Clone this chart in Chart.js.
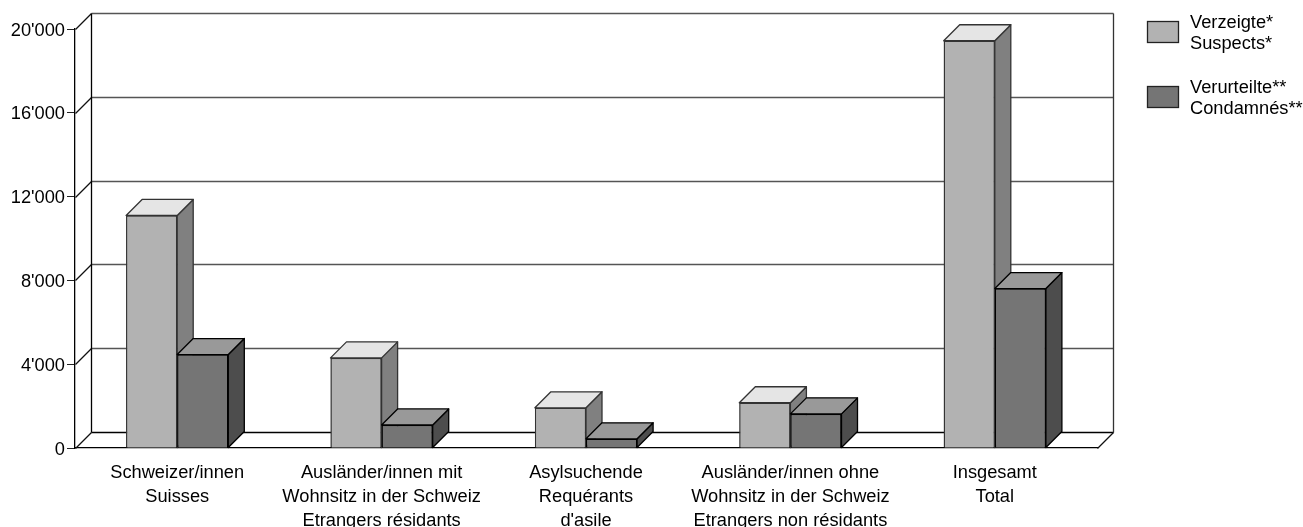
<!DOCTYPE html>
<html lang="de">

<head>
    <meta charset="UTF-8">
    <title>Verzeigte und Verurteilte</title>
    <script src="https://cdn.jsdelivr.net/npm/chart.js"></script>
    <style>
        html, body { margin: 0; padding: 0; background: #fff; }
        canvas { display: block; }
    </style>
</head>

<body>
    <canvas id="grafico" width="1303" height="527"></canvas>

    <script>
        const categorias = [
            ['Schweizer/innen', 'Suisses'],
            ['Ausländer/innen mit', 'Wohnsitz in der Schweiz', 'Etrangers résidants'],
            ['Asylsuchende', 'Requérants', "d'asile"],
            ['Ausländer/innen ohne', 'Wohnsitz in der Schweiz', 'Etrangers non résidants'],
            ['Insgesamt', 'Total']
        ];
        const verzeigte = [11100, 4300, 1920, 2160, 19440];
        const verurteilte = [4460, 1100, 440, 1630, 7610];
        const labelVerzeigte = ['Verzeigte*', 'Suspects*'];
        const labelVerurteilte = ['Verurteilte**', 'Condamnés**'];
        const yTicks = [0, 4000, 8000, 12000, 16000, 20000];
        const yTickLabels = ['0', "4'000", "8'000", "12'000", "16'000", "20'000"];

        const FAMILIA = '"Liberation Sans", Arial, sans-serif';
        const TAMANHO = 18.25;
        const PROF = 16; // depth of the 3d box
        const TRACO = 1.3;

        // side and top faces of every bar; light series first, then the front
        // faces again so the dark series overlaps the light side faces
        const barras3d = {
            id: 'barras3d',
            afterDatasetsDraw(chart) {
                const ctx = chart.ctx;
                chart.data.datasets.forEach((ds, i) => {
                    chart.getDatasetMeta(i).data.forEach(bar => {
                        const { x, y, base, width } = bar.getProps(['x', 'y', 'base', 'width'], true);
                        const l = x - width / 2, r = x + width / 2;
                        ctx.save();
                        ctx.lineWidth = TRACO;
                        ctx.strokeStyle = ds.borderColor;
                        ctx.lineJoin = 'round';

                        ctx.beginPath();
                        ctx.moveTo(r, y);
                        ctx.lineTo(r + PROF, y - PROF);
                        ctx.lineTo(r + PROF, base - PROF);
                        ctx.lineTo(r, base);
                        ctx.closePath();
                        ctx.fillStyle = ds.corLado;
                        ctx.fill();
                        ctx.stroke();

                        ctx.beginPath();
                        ctx.moveTo(l, y);
                        ctx.lineTo(l + PROF, y - PROF);
                        ctx.lineTo(r + PROF, y - PROF);
                        ctx.lineTo(r, y);
                        ctx.closePath();
                        ctx.fillStyle = ds.corTopo;
                        ctx.fill();
                        ctx.stroke();
                        ctx.restore();

                        bar.draw(ctx);
                    });
                });
            }
        };

        // back wall, left wall and floor
        const paredes = {
            id: 'paredes',
            beforeDatasetsDraw(chart) {
                const ctx = chart.ctx;
                const { left, right } = chart.chartArea;
                const y = chart.scales.y;
                const linha = (x1, y1, x2, y2, cor) => {
                    ctx.beginPath();
                    ctx.moveTo(x1, y1);
                    ctx.lineTo(x2, y2);
                    ctx.strokeStyle = cor;
                    ctx.stroke();
                };
                const x0 = left + 0.5, x1 = right + 0.5;
                const topo = Math.round(y.getPixelForValue(20000)) + 0.5;
                const chao = Math.round(y.getPixelForValue(0)) + 0.5;

                ctx.save();
                ctx.lineWidth = TRACO;
                yTicks.forEach(v => {
                    const py = Math.round(y.getPixelForValue(v)) + 0.5;
                    const cor = v === 0 ? '#000' : '#555';
                    linha(x0, py, x0 + PROF, py - PROF, '#111');
                    linha(x0 + PROF, py - PROF, x1 + PROF, py - PROF, cor);
                });
                linha(x0 + PROF, topo - PROF, x0 + PROF, chao - PROF, '#000');
                linha(x1 + PROF, topo - PROF, x1 + PROF, chao - PROF, '#333');
                linha(x1, chao, x1 + PROF, chao - PROF, '#111');
                ctx.restore();
            }
        };

        // two-line legend entries to the right of the plot
        const legenda = {
            id: 'legenda',
            afterDraw(chart) {
                const ctx = chart.ctx;
                const posY = [21, 86];
                ctx.save();
                ctx.font = TAMANHO + 'px ' + FAMILIA;
                ctx.textBaseline = 'middle';
                ctx.textAlign = 'left';
                chart.data.datasets.forEach((ds, i) => {
                    ctx.fillStyle = ds.backgroundColor;
                    ctx.fillRect(1147.5, posY[i] + 0.5, 31, 21);
                    ctx.strokeStyle = '#222';
                    ctx.lineWidth = TRACO;
                    ctx.strokeRect(1147.5, posY[i] + 0.5, 31, 21);
                    ctx.fillStyle = '#000';
                    ds.label.forEach((txt, j) => ctx.fillText(txt, 1190, posY[i] + 1.5 + j * 21.7));
                });
                ctx.restore();
            }
        };

        new Chart(document.getElementById('grafico'), {
            type: 'bar',
            data: {
                labels: categorias,
                datasets: [{
                    label: labelVerzeigte,
                    data: verzeigte,
                    backgroundColor: '#b2b2b2',
                    borderColor: '#333',
                    corLado: '#808080',
                    corTopo: '#e5e5e5',
                    borderWidth: TRACO
                }, {
                    label: labelVerurteilte,
                    data: verurteilte,
                    backgroundColor: '#757575',
                    borderColor: '#000',
                    corLado: '#4d4d4d',
                    corTopo: '#999999',
                    borderWidth: TRACO
                }]
            },
            options: {
                responsive: false,
                animation: false,
                layout: { padding: { top: 29, right: 206 } },
                datasets: { bar: { categoryPercentage: 0.5, barPercentage: 1 } },
                plugins: {
                    legend: { display: false },
                    tooltip: { enabled: false }
                },
                scales: {
                    x: {
                        afterFit(scale) { scale.height = 79; },
                        grid: { display: false },
                        border: { color: '#000', width: TRACO },
                        ticks: {
                            color: '#000',
                            autoSkip: false,
                            maxRotation: 0,
                            padding: 5,
                            font: { family: FAMILIA, size: TAMANHO, lineHeight: 1.32 }
                        }
                    },
                    y: {
                        min: 0,
                        max: 20000,
                        afterFit(scale) { scale.width = 75; },
                        afterBuildTicks(scale) { scale.ticks = yTicks.map(v => ({ value: v })); },
                        grid: { drawOnChartArea: false, tickLength: 8, color: '#222' },
                        border: { color: '#000', width: TRACO },
                        ticks: {
                            color: '#000',
                            padding: 2,
                            labelOffset: 1.5,
                            callback: (v) => yTickLabels[yTicks.indexOf(v)],
                            font: { family: FAMILIA, size: TAMANHO }
                        }
                    }
                }
            },
            plugins: [paredes, barras3d, legenda]
        });
    </script>
</body>

</html>
